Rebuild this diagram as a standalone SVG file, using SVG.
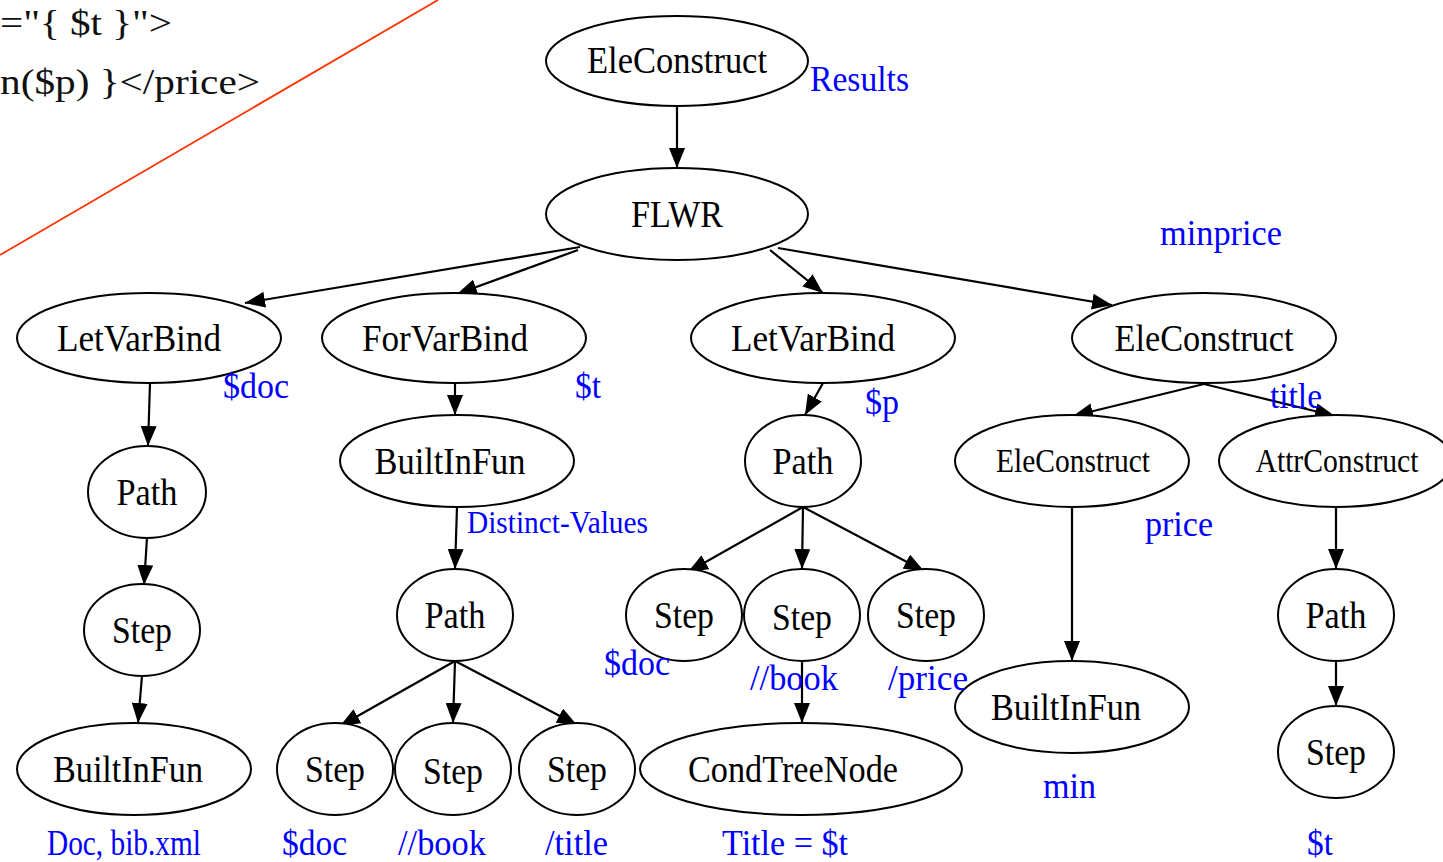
<svg xmlns="http://www.w3.org/2000/svg" width="1443" height="862" viewBox="0 0 1443 862">
  <style>
    .node ellipse { fill: #fff; stroke: #000; stroke-width: 2; }
    .node text { font-family: "Liberation Serif", serif; font-size: 37px; fill: #000; text-anchor: middle; }
    .node text.sm { font-size: 33px; }
    .edges line { stroke: #000; stroke-width: 2.2; marker-end: url(#arrow); }
    .lbl { font-family: "Liberation Serif", serif; font-size: 36px; fill: #0000ff; }
    .lbl.sm { font-size: 31px; }
    .code { font-family: "Liberation Serif", serif; font-size: 36px; fill: #111; }
  </style>
  <defs>
    <marker id="arrow" markerUnits="userSpaceOnUse" markerWidth="20" markerHeight="16" refX="20" refY="8" orient="auto">
      <path d="M0,0 L20,8 L0,16 z" fill="#000"/>
    </marker>
  </defs>
  <rect width="1443" height="862" fill="#fff"/>

  <!-- query text fragment and divider -->
  <text class="code" x="0" y="35" textLength="172" lengthAdjust="spacingAndGlyphs">="{ $t }"&gt;</text>
  <text class="code" x="0" y="94" textLength="260" lengthAdjust="spacingAndGlyphs">n($p) }&lt;/price&gt;</text>
  <line x1="0" y1="255" x2="438" y2="0" stroke="#ff3300" stroke-width="1.8"/>

  <!-- connectors -->
  <g class="edges">
    <line x1="677" y1="106" x2="677" y2="168"/>
    <line x1="580" y1="247" x2="245" y2="303"/>
    <line x1="578" y1="250" x2="457" y2="294"/>
    <line x1="770" y1="250" x2="823" y2="293"/>
    <line x1="778" y1="248" x2="1112" y2="305"/>
    <line x1="150" y1="383" x2="148" y2="446"/>
    <line x1="147" y1="538" x2="144" y2="585"/>
    <line x1="142" y1="676" x2="138" y2="723"/>
    <line x1="455" y1="383" x2="455" y2="415"/>
    <line x1="457" y1="507" x2="455" y2="569"/>
    <line x1="455" y1="661" x2="340" y2="726"/>
    <line x1="455" y1="661" x2="453" y2="723"/>
    <line x1="455" y1="661" x2="577" y2="725"/>
    <line x1="823" y1="383" x2="805" y2="415"/>
    <line x1="803" y1="507" x2="688" y2="572"/>
    <line x1="803" y1="507" x2="802" y2="569"/>
    <line x1="803" y1="507" x2="924" y2="571"/>
    <line x1="802" y1="661" x2="802" y2="723"/>
    <line x1="1204" y1="384" x2="1073" y2="416"/>
    <line x1="1204" y1="384" x2="1335" y2="416"/>
    <line x1="1072" y1="507" x2="1072" y2="661"/>
    <line x1="1336" y1="507" x2="1336" y2="569"/>
    <line x1="1336" y1="661" x2="1336" y2="706"/>
  </g>

  <!-- nodes -->
  <g class="node" id="n-eleconstruct-root"><ellipse cx="677" cy="61" rx="131" ry="45"/><text x="677" y="73" textLength="180" lengthAdjust="spacingAndGlyphs">EleConstruct</text></g>
  <g class="node" id="n-flwr"><ellipse cx="677" cy="214" rx="131" ry="46"/><text x="677" y="227" textLength="92" lengthAdjust="spacingAndGlyphs">FLWR</text></g>
  <g class="node" id="n-letvarbind-doc"><ellipse cx="149" cy="338" rx="132" ry="45"/><text x="139" y="351" textLength="164" lengthAdjust="spacingAndGlyphs">LetVarBind</text></g>
  <g class="node" id="n-forvarbind"><ellipse cx="454" cy="338" rx="132" ry="45"/><text x="445" y="351" textLength="166" lengthAdjust="spacingAndGlyphs">ForVarBind</text></g>
  <g class="node" id="n-letvarbind-p"><ellipse cx="823" cy="338" rx="132" ry="45"/><text x="813" y="351" textLength="164" lengthAdjust="spacingAndGlyphs">LetVarBind</text></g>
  <g class="node" id="n-eleconstruct-minprice"><ellipse cx="1204" cy="338" rx="132" ry="45"/><text x="1204" y="351" textLength="179" lengthAdjust="spacingAndGlyphs">EleConstruct</text></g>

  <g class="node" id="n-path-doc"><ellipse cx="147" cy="492" rx="59" ry="46"/><text x="147" y="505" textLength="61" lengthAdjust="spacingAndGlyphs">Path</text></g>
  <g class="node" id="n-step-doc"><ellipse cx="142" cy="630" rx="58" ry="46"/><text x="142" y="643" textLength="60" lengthAdjust="spacingAndGlyphs">Step</text></g>
  <g class="node" id="n-builtinfun-doc"><ellipse cx="134" cy="769" rx="117" ry="46"/><text x="128" y="782" textLength="150" lengthAdjust="spacingAndGlyphs">BuiltInFun</text></g>

  <g class="node" id="n-builtinfun-distinct"><ellipse cx="457" cy="461" rx="117" ry="46"/><text x="450" y="474" textLength="151" lengthAdjust="spacingAndGlyphs">BuiltInFun</text></g>
  <g class="node" id="n-path-t"><ellipse cx="455" cy="615" rx="58" ry="46"/><text x="455" y="628" textLength="61" lengthAdjust="spacingAndGlyphs">Path</text></g>
  <g class="node" id="n-step-t-doc"><ellipse cx="335" cy="769" rx="58" ry="46"/><text x="335" y="782" textLength="60" lengthAdjust="spacingAndGlyphs">Step</text></g>
  <g class="node" id="n-step-t-book"><ellipse cx="453" cy="769" rx="58" ry="46"/><text x="453" y="784" textLength="60" lengthAdjust="spacingAndGlyphs">Step</text></g>
  <g class="node" id="n-step-t-title"><ellipse cx="577" cy="769" rx="58" ry="46"/><text x="577" y="782" textLength="60" lengthAdjust="spacingAndGlyphs">Step</text></g>

  <g class="node" id="n-path-p"><ellipse cx="803" cy="461" rx="58" ry="46"/><text x="803" y="474" textLength="61" lengthAdjust="spacingAndGlyphs">Path</text></g>
  <g class="node" id="n-step-p-doc"><ellipse cx="684" cy="615" rx="58" ry="46"/><text x="684" y="628" textLength="60" lengthAdjust="spacingAndGlyphs">Step</text></g>
  <g class="node" id="n-step-p-book"><ellipse cx="802" cy="615" rx="58" ry="46"/><text x="802" y="630" textLength="60" lengthAdjust="spacingAndGlyphs">Step</text></g>
  <g class="node" id="n-step-p-price"><ellipse cx="926" cy="615" rx="58" ry="46"/><text x="926" y="628" textLength="60" lengthAdjust="spacingAndGlyphs">Step</text></g>
  <g class="node" id="n-condtreenode"><ellipse cx="801" cy="769" rx="161" ry="46"/><text x="793" y="782" textLength="210" lengthAdjust="spacingAndGlyphs">CondTreeNode</text></g>

  <g class="node" id="n-eleconstruct-price"><ellipse cx="1072" cy="461" rx="117" ry="46"/><text class="sm" x="1073" y="472" textLength="154" lengthAdjust="spacingAndGlyphs">EleConstruct</text></g>
  <g class="node" id="n-attrconstruct"><ellipse cx="1336" cy="461" rx="117" ry="46"/><text class="sm" x="1337" y="472" textLength="163" lengthAdjust="spacingAndGlyphs">AttrConstruct</text></g>
  <g class="node" id="n-builtinfun-min"><ellipse cx="1072" cy="707" rx="117" ry="46"/><text x="1066" y="720" textLength="150" lengthAdjust="spacingAndGlyphs">BuiltInFun</text></g>
  <g class="node" id="n-path-title"><ellipse cx="1336" cy="615" rx="58" ry="46"/><text x="1336" y="628" textLength="61" lengthAdjust="spacingAndGlyphs">Path</text></g>
  <g class="node" id="n-step-title"><ellipse cx="1336" cy="752" rx="58" ry="46"/><text x="1336" y="765" textLength="60" lengthAdjust="spacingAndGlyphs">Step</text></g>

  <!-- blue annotations -->
  <g id="annotations">
    <text class="lbl" x="810" y="91" textLength="99" lengthAdjust="spacingAndGlyphs">Results</text>
    <text class="lbl" x="1160" y="245" textLength="122" lengthAdjust="spacingAndGlyphs">minprice</text>
    <text class="lbl" x="223" y="398" textLength="66" lengthAdjust="spacingAndGlyphs">$doc</text>
    <text class="lbl" x="575" y="398" textLength="26" lengthAdjust="spacingAndGlyphs">$t</text>
    <text class="lbl" x="865" y="414" textLength="34" lengthAdjust="spacingAndGlyphs">$p</text>
    <text class="lbl" x="1270" y="408" textLength="52" lengthAdjust="spacingAndGlyphs">title</text>
    <text class="lbl sm" x="467" y="533" textLength="181" lengthAdjust="spacingAndGlyphs">Distinct-Values</text>
    <text class="lbl" x="1145" y="536" textLength="68" lengthAdjust="spacingAndGlyphs">price</text>
    <text class="lbl" x="604" y="675" textLength="66" lengthAdjust="spacingAndGlyphs">$doc</text>
    <text class="lbl" x="750" y="690" textLength="88" lengthAdjust="spacingAndGlyphs">//book</text>
    <text class="lbl" x="888" y="690" textLength="80" lengthAdjust="spacingAndGlyphs">/price</text>
    <text class="lbl" x="1043" y="798" textLength="53" lengthAdjust="spacingAndGlyphs">min</text>
    <text class="lbl" x="47" y="855" textLength="154" lengthAdjust="spacingAndGlyphs">Doc, bib.xml</text>
    <text class="lbl" x="282" y="855" textLength="65" lengthAdjust="spacingAndGlyphs">$doc</text>
    <text class="lbl" x="398" y="855" textLength="88" lengthAdjust="spacingAndGlyphs">//book</text>
    <text class="lbl" x="545" y="855" textLength="63" lengthAdjust="spacingAndGlyphs">/title</text>
    <text class="lbl" x="722" y="855" textLength="126" lengthAdjust="spacingAndGlyphs">Title = $t</text>
    <text class="lbl" x="1307" y="855" textLength="26" lengthAdjust="spacingAndGlyphs">$t</text>
  </g>
</svg>
